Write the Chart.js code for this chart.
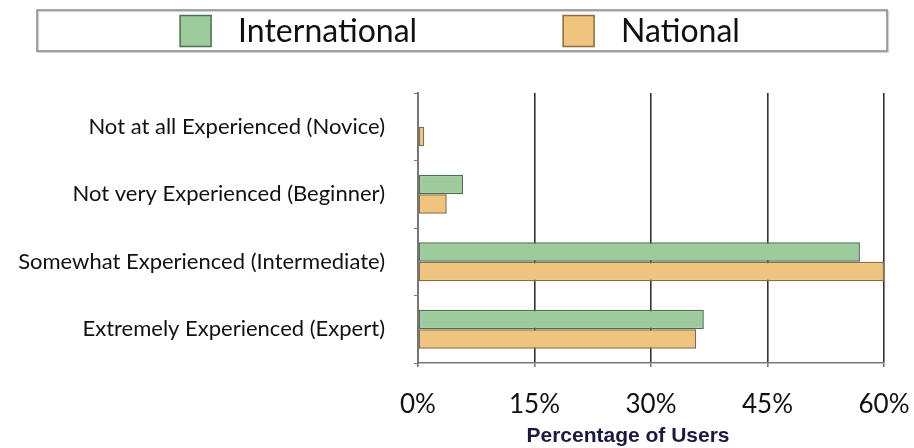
<!DOCTYPE html>
<html>
<head>
<meta charset="utf-8">
<script src="https://cdn.jsdelivr.net/npm/chart.js@4/dist/chart.umd.min.js"></script>
<style>
  html, body { margin: 0; padding: 0; background: #fff; }
  #wrap { width: 914px; height: 448px; position: relative; }
</style>
</head>
<body>
<div id="wrap"><canvas id="myChart"></canvas></div>
<script>
// datos
const categorias = [
  'Not at all Experienced (Novice)',
  'Not very Experienced (Beginner)',
  'Somewhat Experienced (Intermediate)',
  'Extremely Experienced (Expert)'
];
const internacional = [0, 5.8, 56.9, 36.8];
const nacional = [0.8, 3.7, 60, 35.8];
const ticksX = [0, 15, 30, 45, 60];
const tituloX = 'Percentage of Users';

// leyenda dibujada a mano con un recuadro alrededor
const leyenda = {
  id: 'leyenda',
  afterDraw(chart) {
    const ctx = chart.ctx;
    ctx.save();
    // recuadro
    ctx.strokeStyle = '#8a8a8a';
    ctx.lineWidth = 1.5;
    ctx.shadowColor = 'rgba(0,0,0,0.25)';
    ctx.shadowOffsetX = 1;
    ctx.shadowOffsetY = 1;
    ctx.shadowBlur = 1;
    ctx.strokeRect(37, 10, 850, 41);
    ctx.shadowColor = 'transparent';

    ctx.font = '32px Lato';
    ctx.textBaseline = 'middle';
    const sets = chart.data.datasets;
    const anchos = sets.map(d => ctx.measureText(d.label).width);
    const caja = 31, hueco = 27, sep = 146;
    const total = sets.length * (caja + hueco) + anchos.reduce((a, b) => a + b, 0) + sep * (sets.length - 1);
    let x = 460 - total / 2;
    const y = 31;
    sets.forEach((d, i) => {
      ctx.fillStyle = d.backgroundColor;
      ctx.fillRect(x, y - caja / 2, caja, caja);
      ctx.strokeStyle = d.borderColor;
      ctx.lineWidth = 1.5;
      ctx.strokeRect(x, y - caja / 2, caja, caja);
      x += caja + hueco;
      ctx.fillStyle = '#111';
      ctx.fillText(d.label, x, y + 1);
      x += anchos[i] + sep;
    });

    // titulo del eje x
    const area = chart.chartArea;
    ctx.font = 'bold 21px "Liberation Sans"';
    ctx.fillStyle = '#1a1a40';
    ctx.textAlign = 'center';
    ctx.fillText(tituloX, (area.left + area.right) / 2 - 23, 436);
    ctx.restore();
  }
};

const ctx = document.getElementById('myChart');
new Chart(ctx, {
  type: 'bar',
  data: {
    labels: categorias,
    datasets: [{
      label: 'International',
      data: internacional,
      backgroundColor: '#9ecb9c',
      borderColor: '#4d6e52',
      borderWidth: 1.5,
      borderSkipped: false
    }, {
      label: 'National',
      data: nacional,
      backgroundColor: '#eec47f',
      borderColor: '#8c6c3c',
      borderWidth: 1.5,
      borderSkipped: false
    }]
  },
  plugins: [leyenda],
  options: {
    indexAxis: 'y',
    responsive: true,
    maintainAspectRatio: false,
    animation: false,
    layout: {
      padding: { top: 93, right: 30, left: 0, bottom: 0 }
    },
    datasets: {
      bar: { barPercentage: 1, categoryPercentage: 0.58 }
    },
    plugins: {
      legend: { display: false },
      tooltip: { enabled: false }
    },
    scales: {
      x: {
        min: 0,
        max: 60,
        afterBuildTicks: (scale) => {
          scale.ticks = ticksX.map(v => ({ value: v }));
        },
        afterFit: (scale) => {
          scale.height = 85;
          scale.paddingLeft = 0;
          scale.paddingRight = 0;
        },
        border: { display: true, color: '#777', width: 1.5 },
        grid: {
          color: (c) => c.tick && c.tick.value === 0 ? '#777' : '#333',
          lineWidth: 1.6,
          drawTicks: true,
          tickLength: 4,
          tickColor: '#777'
        },
        ticks: {
          padding: 22,
          color: '#111',
          font: { family: 'Lato', size: 26 },
          callback: (v) => v + '%'
        }
      },
      y: {
        afterFit: (scale) => { scale.width = 418; },
        border: { display: true, color: '#777', width: 2 },
        grid: {
          drawOnChartArea: false,
          drawTicks: true,
          tickLength: 4,
          tickColor: '#777'
        },
        ticks: {
          padding: 29,
          color: '#111',
          font: { family: 'Lato', size: 22 }
        }
      }
    }
  }
});
</script>
</body>
</html>
